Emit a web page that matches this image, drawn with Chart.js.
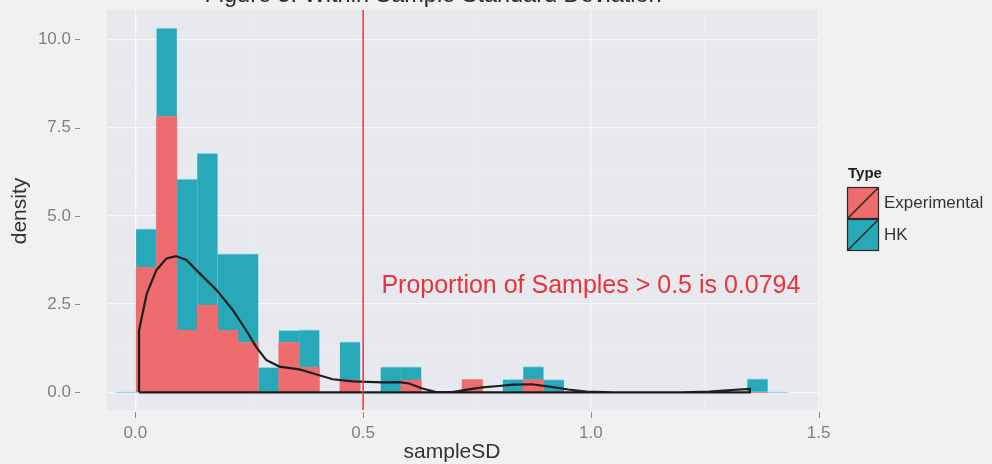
<!DOCTYPE html>
<html>
<head>
<meta charset="utf-8">
<script src="https://cdn.jsdelivr.net/npm/chart.js@4/dist/chart.umd.min.js"></script>
<style>
  html, body { margin: 0; padding: 0; background: #F1F1F1; }
  #wrap { position: absolute; left: 0; top: 0; width: 992px; height: 464px; }
</style>
</head>
<body>
<div id="wrap"><canvas id="c"></canvas></div>
<script>
// ---------------- DATA ----------------
const chartTitle = 'Figure 5: Within Sample Standard Deviation';
const xAxisTitle = 'sampleSD';
const yAxisTitle = 'density';
const legendTitle = 'Type';
const seriesNames = ['Experimental', 'HK'];

// histogram bin centres (sampleSD)
const binCenters = [0.0239, 0.0686, 0.1133, 0.1581, 0.2028, 0.2475, 0.2923, 0.3370, 0.3817, 0.4265,
  0.4712, 0.5159, 0.5606, 0.6054, 0.6501, 0.6948, 0.7396, 0.7843, 0.8290, 0.8738,
  0.9185, 0.9632, 1.0080, 1.0527, 1.0974, 1.1421, 1.1869, 1.2316, 1.2763, 1.3211, 1.3658];
// stacked densities
const experimentalValues = [3.54, 7.81, 1.76, 2.47, 1.76, 1.41, 0, 1.41, 0.71, 0,
  0.35, 0, 0, 0.35, 0, 0, 0.36, 0, 0, 0.36,
  0, 0, 0, 0, 0, 0, 0, 0, 0, 0, 0];
const hkValues = [1.09, 2.51, 4.28, 4.30, 2.16, 2.51, 0.71, 0.35, 1.06, 0,
  1.08, 0, 0.72, 0.37, 0, 0, 0, 0, 0.37, 0.37,
  0.36, 0, 0, 0, 0, 0, 0, 0, 0, 0, 0.38];

// overall density curve (closed outline as drawn in the figure)
const densityX = [0.008, 0.008, 0.025, 0.046, 0.068, 0.089, 0.112, 0.141, 0.178, 0.214, 0.243, 0.265, 0.287,
  0.316, 0.360, 0.389, 0.433, 0.477, 0.543, 0.579, 0.601, 0.630, 0.660, 0.696, 0.725, 0.762, 0.798,
  0.830, 0.870, 0.905, 0.950, 0.990, 1.050, 1.200, 1.260, 1.300, 1.349, 1.349, 0.008];
const densityY = [0, 1.76, 2.80, 3.46, 3.79, 3.86, 3.75, 3.37, 2.90, 2.33, 1.76, 1.29, 0.92,
  0.73, 0.65, 0.54, 0.37, 0.31, 0.28, 0.29, 0.25, 0.11, 0.01, 0.01, 0.07, 0.14, 0.18,
  0.22, 0.23, 0.17, 0.08, 0.02, 0.0, 0.0, 0.02, 0.06, 0.10, 0, 0];

const threshold = 0.5;
const annotationText = 'Proportion of Samples > 0.5 is 0.0794';
const annotationX = 1.0;
const annotationY = 3.0;

const xTicks = [0, 0.5, 1.0, 1.5];
const xMinorTicks = [0.25, 0.75, 1.25];
const yTicks = [0, 2.5, 5.0, 7.5, 10.0];
const yMinorTicks = [1.25, 3.75, 6.25, 8.75];
const xLimits = [-0.0624, 1.503];
const yLimits = [-0.50, 10.83];

// ---------------- STYLE ----------------
const FONT = '"Liberation Sans", Arial, Helvetica, sans-serif';
const RED = '#EE6B6E';
const TEAL = '#27A9B9';
const PANEL = '#E8E9EF';

const binWidth = binCenters[1] - binCenters[0];

const panelBg = {
  id: 'panelBg',
  beforeDraw(chart) {
    const { ctx, chartArea: a } = chart;
    ctx.save();
    ctx.fillStyle = PANEL;
    ctx.fillRect(a.left, a.top, a.right - a.left, a.bottom - a.top);
    ctx.restore();
  }
};

const decorations = {
  id: 'decorations',
  afterDatasetsDraw(chart) {
    const { ctx, scales } = chart;
    const xs = scales.x, ys = scales.y;
    ctx.save();
    ctx.fillStyle = '#E8333B';
    ctx.font = '25px ' + FONT;
    ctx.textAlign = 'center';
    ctx.textBaseline = 'middle';
    ctx.fillText(annotationText, xs.getPixelForValue(annotationX), ys.getPixelForValue(annotationY));
    ctx.restore();
  },
  afterDraw(chart) {
    const { ctx, chartArea: a, scales } = chart;
    const xs = scales.x, ys = scales.y;
    ctx.save();
    ctx.strokeStyle = '#8a8a8a';
    ctx.lineWidth = 1;
    yTicks.forEach(v => {
      const y = Math.round(ys.getPixelForValue(v)) + 0.5;
      ctx.beginPath(); ctx.moveTo(a.left - 32, y); ctx.lineTo(a.left - 27, y); ctx.stroke();
    });
    xTicks.forEach(v => {
      const x = Math.round(xs.getPixelForValue(v)) + 0.5;
      ctx.beginPath(); ctx.moveTo(x, a.bottom + 2); ctx.lineTo(x, a.bottom + 8); ctx.stroke();
    });
    ctx.fillStyle = '#2b2b2b';
    ctx.font = '23.5px ' + FONT;
    ctx.textAlign = 'center';
    ctx.textBaseline = 'alphabetic';
    ctx.fillText(chartTitle, 433, 2);
    ctx.fillStyle = '#333333';
    ctx.font = '21px ' + FONT;
    ctx.textBaseline = 'middle';
    ctx.fillText(xAxisTitle, 452, 452);
    ctx.save();
    ctx.translate(20, 211);
    ctx.rotate(-Math.PI / 2);
    ctx.fillText(yAxisTitle, 0, 0);
    ctx.restore();
    const lx = 847, ly = 187, ks = 32;
    ctx.textAlign = 'left';
    ctx.textBaseline = 'alphabetic';
    ctx.font = 'bold 15px ' + FONT;
    ctx.fillStyle = '#222';
    ctx.fillText(legendTitle, lx + 1, 178);
    [RED, TEAL].forEach((col, i) => {
      const y0 = ly + i * ks;
      ctx.fillStyle = col;
      ctx.fillRect(lx, y0, ks, ks);
      ctx.strokeStyle = '#2a2a2a';
      ctx.lineWidth = 1.2;
      ctx.strokeRect(lx + 0.5, y0 + 0.5, ks - 1, ks - 1);
      ctx.lineWidth = 1.6;
      ctx.beginPath(); ctx.moveTo(lx + 1, y0 + ks - 1); ctx.lineTo(lx + ks - 1, y0 + 1); ctx.stroke();
      ctx.fillStyle = '#333';
      ctx.font = '17px ' + FONT;
      ctx.textBaseline = 'middle';
      ctx.fillText(seriesNames[i], lx + 37, y0 + ks / 2);
      ctx.textBaseline = 'alphabetic';
    });
    ctx.restore();
  }
};

function setTicks(majors, minors) {
  return function (scale) {
    scale.ticks = majors.concat(minors).sort((a, b) => a - b).map(v => ({ value: v }));
  };
}
function isMajor(list, v) { return list.some(t => Math.abs(t - v) < 1e-9); }
function gridColor(list) {
  return ctx => (ctx.tick && isMajor(list, ctx.tick.value)) ? '#F8F8FA' : '#F0F1F4';
}
function gridWidth(list) {
  return ctx => (ctx.tick && isMajor(list, ctx.tick.value)) ? 1.3 : 0.6;
}

const config = {
  data: {
    datasets: [
      {
        type: 'line',
        label: 'baseline',
        data: [{ x: binCenters[0] - 1.5 * binWidth, y: 0 }, { x: binCenters[binCenters.length - 1] + 1.5 * binWidth, y: 0 }],
        borderColor: '#8CCBEA', borderWidth: 1, pointRadius: 0, stack: 'base', order: 5
      },
      {
        type: 'bar',
        label: seriesNames[0],
        data: binCenters.map((x, i) => ({ x, y: experimentalValues[i] })),
        backgroundColor: RED, borderWidth: 0,
        grouped: false, barPercentage: 1, categoryPercentage: 1, order: 3
      },
      {
        type: 'bar',
        label: seriesNames[1],
        data: binCenters.map((x, i) => ({ x, y: hkValues[i] === 0 ? null : hkValues[i] })),
        backgroundColor: TEAL, borderColor: '#8FD3F0',
        borderWidth: { top: 1, left: 0, right: 0, bottom: 0 }, borderSkipped: 'start',
        grouped: false, barPercentage: 1, categoryPercentage: 1, order: 3
      },
      {
        type: 'line',
        label: 'density',
        data: densityX.map((x, i) => ({ x, y: densityY[i] })),
        borderColor: '#1e1e1e', borderWidth: 2.2, pointRadius: 0, tension: 0, fill: false,
        stack: 'dens', order: 1
      },
      {
        type: 'line',
        label: 'threshold',
        data: [{ x: threshold, y: yLimits[0] }, { x: threshold, y: yLimits[1] }],
        borderColor: '#E8333B', borderWidth: 1.5, pointRadius: 0, stack: 'vline', order: 0
      }
    ]
  },
  options: {
    responsive: true,
    maintainAspectRatio: false,
    animation: false,
    devicePixelRatio: 1,
    layout: { padding: { top: 10, right: 172, left: 0, bottom: 0 } },
    plugins: { legend: { display: false }, tooltip: { enabled: false }, title: { display: false } },
    scales: {
      x: {
        type: 'linear', min: xLimits[0], max: xLimits[1], offset: false,
        afterBuildTicks: setTicks(xTicks, xMinorTicks),
        afterFit(scale) { scale.height = 54; scale.paddingLeft = 0; scale.paddingRight = 0; },
        border: { display: false },
        grid: { offset: false, drawTicks: false, color: gridColor(xTicks), lineWidth: gridWidth(xTicks) },
        ticks: {
          padding: 13, maxRotation: 0, minRotation: 0, autoSkip: false,
          color: '#808080', font: { family: FONT, size: 17 },
          callback: v => isMajor(xTicks, v) ? v.toFixed(1) : ''
        }
      },
      y: {
        type: 'linear', min: yLimits[0], max: yLimits[1], stacked: true,
        afterBuildTicks: setTicks(yTicks, yMinorTicks),
        afterFit(scale) { scale.width = 107; scale.paddingTop = 0; scale.paddingBottom = 0; },
        border: { display: false },
        grid: { drawTicks: false, color: gridColor(yTicks), lineWidth: gridWidth(yTicks) },
        ticks: {
          padding: 36, autoSkip: false,
          color: '#808080', font: { family: FONT, size: 17 },
          callback: v => isMajor(yTicks, v) ? v.toFixed(1) : ''
        }
      }
    }
  },
  plugins: [panelBg, decorations]
};

new Chart(document.getElementById('c'), config);
</script>
</body>
</html>
